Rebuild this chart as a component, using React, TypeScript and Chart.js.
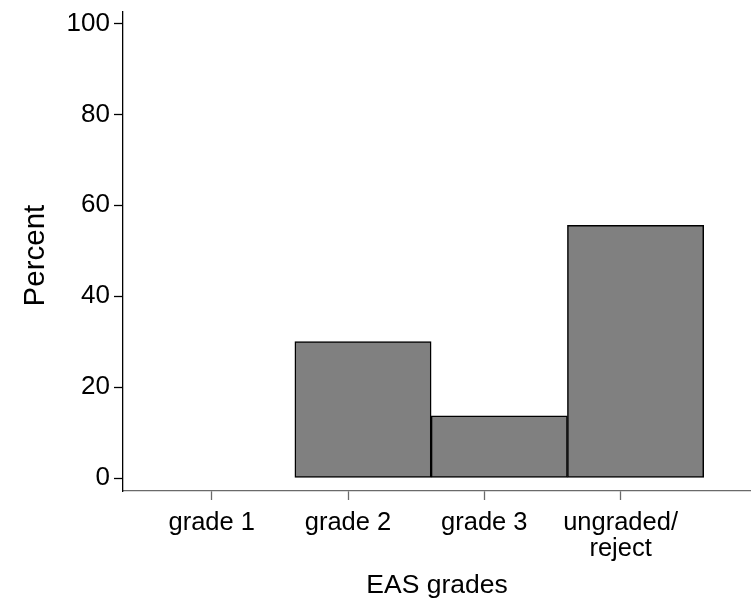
import React, { useEffect, useRef } from "react";
import { Chart, registerables } from "chart.js";

Chart.register(...registerables);

// Data
const gradeLabels: (string | string[])[] = ["grade 1", "grade 2", "grade 3", ["ungraded/", "reject"]];
const gradeTickValues = [1, 2, 3, 4];
const binCenters = [2.11, 3.11, 4.11];
const percentValues = [30.0, 13.7, 55.6];
const yTickValues = [0, 20, 40, 60, 80, 100];

const FONT = "'Liberation Sans', Arial, Helvetica, sans-serif";

export default function App() {
  const ref = useRef<HTMLCanvasElement | null>(null);

  useEffect(() => {
    if (!ref.current) return;
    const chart = new Chart(ref.current, {
      type: "bar",
      data: {
        datasets: [
          {
            data: binCenters.map((x, i) => ({ x, y: percentValues[i] })),
            backgroundColor: "#808080",
            borderColor: "#000000",
            borderWidth: 1.5,
            borderSkipped: false,
            categoryPercentage: 1,
            barPercentage: 1,
          },
        ],
      },
      options: {
        responsive: false,
        animation: false,
        layout: { padding: { top: 12, left: 0, right: 0, bottom: 0 } },
        plugins: { legend: { display: false }, tooltip: { enabled: false } },
        scales: {
          x: {
            type: "linear",
            min: 0.349,
            max: 4.957,
            offset: false,
            grid: {
              display: true,
              offset: false,
              drawOnChartArea: false,
              drawTicks: true,
              tickLength: 9,
              tickColor: "#6a6a6a",
              tickWidth: 1.3,
            },
            border: { display: true, color: "#6a6a6a", width: 1.3 },
            afterBuildTicks: (scale: any) => {
              scale.ticks = gradeTickValues.map((v) => ({ value: v }));
            },
            afterFit: (scale: any) => {
              scale.height = 113;
              scale.paddingLeft = 0;
              scale.paddingRight = 0;
            },
            ticks: {
              autoSkip: false,
              maxRotation: 0,
              minRotation: 0,
              padding: 10,
              color: "#000",
              font: { family: FONT, size: 25.5, lineHeight: 1.03 },
              callback: (v: any) => {
                const idx = gradeTickValues.indexOf(Number(v));
                return idx >= 0 ? gradeLabels[idx] : "";
              },
            },
            title: {
              display: true,
              text: "EAS grades",
              color: "#000",
              font: { family: FONT, size: 26.5 },
              padding: { top: 0, bottom: 2 },
            },
          },
          y: {
            type: "linear",
            min: -2.86,
            max: 102.53,
            grid: {
              display: true,
              drawOnChartArea: false,
              drawTicks: true,
              tickLength: 9,
              tickColor: "#000",
              tickWidth: 1.3,
            },
            border: { display: true, color: "#000", width: 1.3 },
            afterBuildTicks: (scale: any) => {
              scale.ticks = yTickValues.map((v) => ({ value: v }));
            },
            afterFit: (scale: any) => {
              scale.width = 123;
              scale.paddingTop = 0;
              scale.paddingBottom = 0;
            },
            ticks: {
              padding: 4,
              color: "#000",
              font: { family: FONT, size: 26 },
              callback: (v: any) => String(v),
            },
            title: {
              display: true,
              text: "Percent ",
              color: "#000",
              font: { family: FONT, size: 29.5, lineHeight: 1.2 },
              padding: { top: 18, bottom: 0 },
            },
          },
        },
      } as any,
    });
    return () => chart.destroy();
  }, []);

  return (
    <div style={{ position: "fixed", left: 0, top: 0, width: 751, height: 604, background: "#fff" }}>
      <canvas ref={ref} width={751} height={604} style={{ width: 751, height: 604, display: "block" }} />
    </div>
  );
}
